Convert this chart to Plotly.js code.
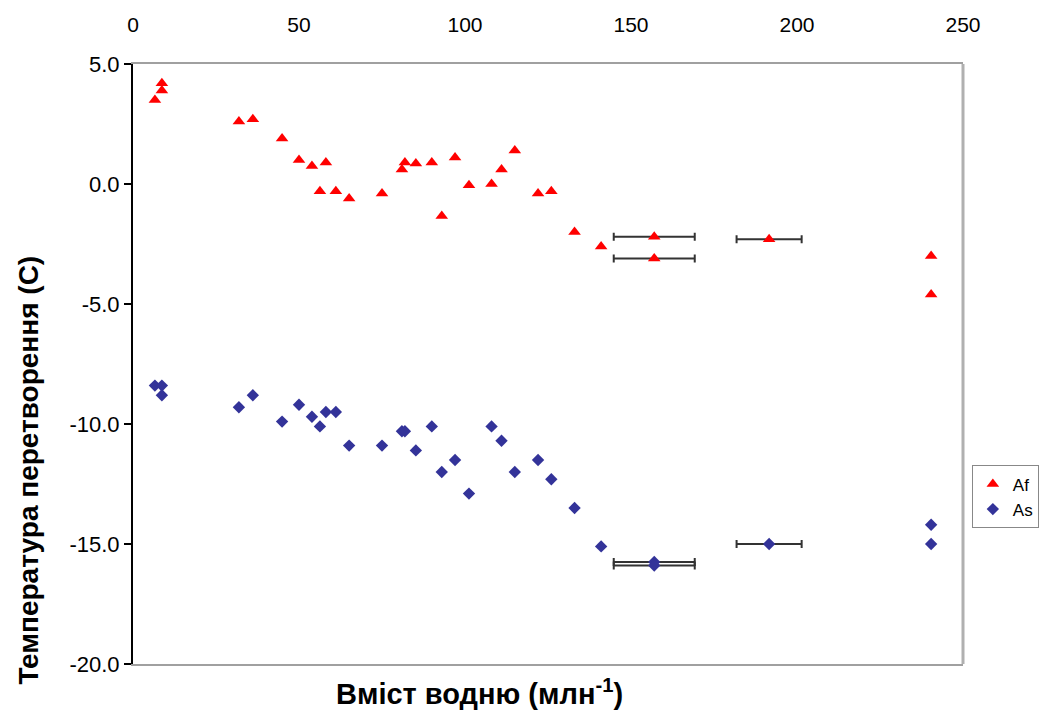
<!DOCTYPE html>
<html>
<head>
<meta charset="utf-8">
<script src="https://cdn.plot.ly/plotly-3.0.1.min.js"></script>
<style>
html,body{margin:0;padding:0;background:#fff;}
#chart{width:1045px;height:713px;}
</style>
</head>
<body>
<div id="chart"></div>
<script>
// Hydrogen content (ppm) – shared by both series
var hydrogen = [6.6, 8.7, 8.7, 31.9, 36.1, 44.9, 50, 53.9, 56.3, 58.1, 61.1, 65.1, 75, 81, 81.9, 85.2, 90, 93, 97, 101.2, 108, 111, 115, 122, 126, 133, 141, 157, 157, 191.6, 240.4, 240.4];
// Af temperatures (C)
var afValues = [3.5, 4.2, 3.9, 2.6, 2.7, 1.9, 1.0, 0.75, -0.3, 0.9, -0.3, -0.6, -0.4, 0.6, 0.9, 0.85, 0.9, -1.33, 1.1, -0.05, 0.0, 0.6, 1.4, -0.4, -0.3, -2.0, -2.6, -2.2, -3.1, -2.3, -3.0, -4.6];
// As temperatures (C)
var asValues = [-8.4, -8.4, -8.8, -9.3, -8.8, -9.9, -9.2, -9.7, -10.1, -9.5, -9.5, -10.9, -10.9, -10.3, -10.3, -11.1, -10.1, -12.0, -11.5, -12.9, -10.1, -10.7, -12.0, -11.5, -12.3, -13.5, -15.1, -15.75, -15.9, -15.0, -14.2, -15.0];
// Horizontal error (ppm); NaN = no error bar
var hydrogenError = [NaN, NaN, NaN, NaN, NaN, NaN, NaN, NaN, NaN, NaN, NaN, NaN, NaN, NaN, NaN, NaN, NaN, NaN, NaN, NaN, NaN, NaN, NaN, NaN, NaN, NaN, NaN, 12.2, 12.2, 9.8, NaN, NaN];
// Tick labels
var xTickVals = [0, 50, 100, 150, 200, 250];
var yTickVals = [5, 0, -5, -10, -15, -20];
var yTickText = ['5.0', '0.0', '-5.0', '-10.0', '-15.0', '-20.0'];
var seriesNames = ['Af', 'As'];
var yTitle = 'Температура перетворення (С)';
var xTitle = 'Вміст водню (млн<sup>-1</sup>)';

var errStyle = {type: 'data', symmetric: true, array: hydrogenError, color: '#333333', thickness: 2, width: 4, visible: true};

var traces = [
  {x: hydrogen, y: afValues, name: seriesNames[0], type: 'scatter', mode: 'markers',
   marker: {symbol: 'triangle-up', size: 11, color: '#ff0000'}, error_x: errStyle},
  {x: hydrogen, y: asValues, name: seriesNames[1], type: 'scatter', mode: 'markers',
   marker: {symbol: 'diamond', size: 9.5, color: '#333399'}, error_x: errStyle}
];

var layout = {
  width: 1045, height: 713,
  margin: {l: 133, r: 82, t: 64, b: 49, pad: 0},
  paper_bgcolor: '#ffffff', plot_bgcolor: '#ffffff',
  font: {family: 'Liberation Sans, Arial, sans-serif', color: '#000'},
  showlegend: true,
  legend: {xref: 'container', yref: 'container', x: 0.93, y: 0.303, xanchor: 'left', yanchor: 'middle',
           bgcolor: '#fff', bordercolor: '#888', borderwidth: 1, font: {size: 17, color: '#000'},
           itemwidth: 30, tracegroupgap: 4},
  xaxis: {range: [0, 250], side: 'top', tickvals: xTickVals, ticks: '', showgrid: false,
          zeroline: false, showline: true, mirror: true, linecolor: '#a0a0a0', linewidth: 2,
          ticklabelstandoff: 22, tickfont: {size: 21, color: '#000'}},
  xaxis2: {range: [0, 250], overlaying: 'x', matches: 'x', anchor: 'free', position: 0.8, side: 'bottom',
           tickvals: xTickVals, ticks: 'outside', ticklen: 6, tickwidth: 2, tickcolor: '#444',
           showticklabels: false, showgrid: false, zeroline: false, showline: true,
           linecolor: '#808080', linewidth: 3},
  yaxis: {range: [-20, 5], tickvals: yTickVals, ticktext: yTickText, ticks: 'outside', ticklen: 7,
          tickwidth: 2, tickcolor: '#000', showgrid: false, zeroline: false, showline: true,
          linecolor: '#000', linewidth: 2, tickfont: {size: 22, color: '#000'}},
  shapes: [{type: 'line', xref: 'paper', yref: 'paper', x0: 1, x1: 1, y0: 0, y1: 1,
            line: {color: '#b0b0b0', width: 3}}],
  annotations: [
    {text: yTitle, xref: 'paper', yref: 'paper', x: -0.126, y: 0.323, textangle: -90,
     showarrow: false, xanchor: 'center', yanchor: 'middle',
     font: {size: 28, color: '#000', family: 'Liberation Sans, Arial, sans-serif', weight: 'bold'}},
    {text: xTitle, xref: 'paper', yref: 'paper', x: 0.417, y: -0.047, showarrow: false,
     xanchor: 'center', yanchor: 'middle',
     font: {size: 29, color: '#000', family: 'Liberation Sans, Arial, sans-serif', weight: 'bold'}}
  ]
};

Plotly.newPlot('chart', traces, layout, {displayModeBar: false, staticPlot: true});
</script>
</body>
</html>
